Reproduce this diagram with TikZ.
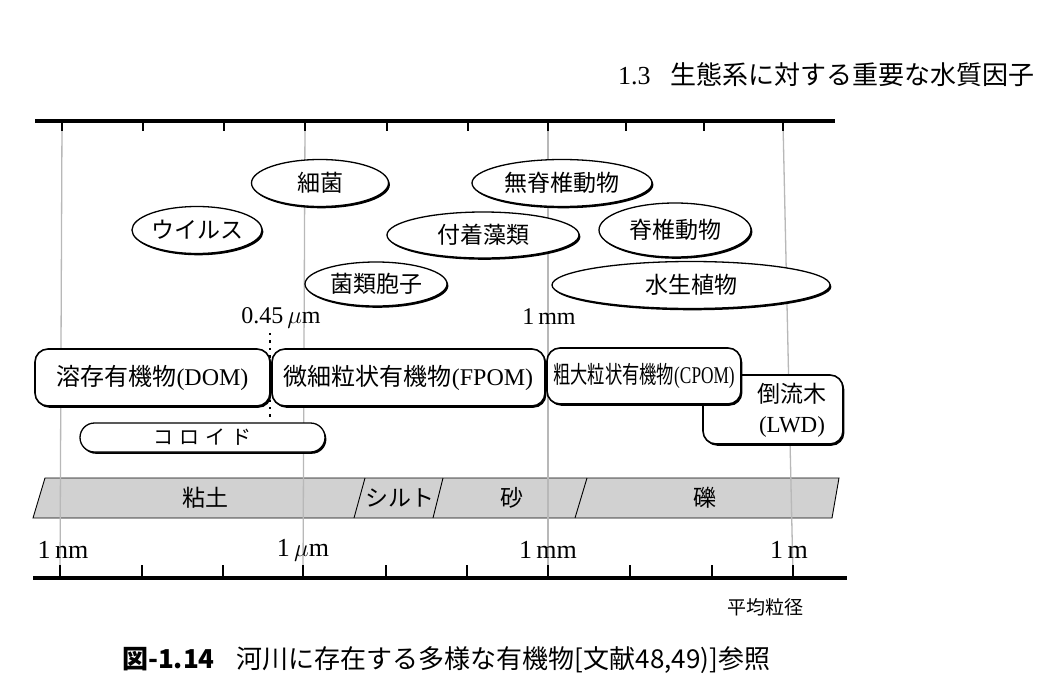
\documentclass[tikz,border=0pt]{standalone}
\usepackage{fontspec}
\setmainfont{Liberation Serif}
\newfontfamily\jp{Noto Sans CJK JP}
\usetikzlibrary{shapes.geometric,shadows}
\begin{document}
\begin{tikzpicture}[x=1pt,y=-1pt,
  shad/.style={drop shadow={shadow xshift=1.4pt, shadow yshift=-1.8pt, fill=black, opacity=1}},
  ell/.style={ellipse, draw, line width=1.3pt, fill=white, inner sep=0pt, shad,
    font=\fontsize{23}{26}\selectfont\jp},
  box/.style={rectangle, rounded corners=13pt, draw, line width=1.6pt, fill=white, inner sep=0pt, shad,
    font=\fontsize{24}{28}\selectfont},
  gridline/.style={draw=black!28, line width=1.3pt},
  axisline/.style={line width=4.5pt},
  tickline/.style={line width=2pt},
  lbl/.style={inner sep=0pt, font=\fontsize{26}{30}\selectfont},
  jplbl/.style={inner sep=0pt, font=\fontsize{23}{26}\selectfont\jp},
]
\useasboundingbox (0,0) rectangle (1044,693);
\fill[white] (0,0) rectangle (1044,693);

% header
\node[inner sep=0pt, anchor=west, font=\fontsize{26}{30}\selectfont] (header) at (618,75) {1.3\hspace{20pt}{\jp 生態系に対する重要な水質因子}};

% grain-size band
\draw[line width=0.9pt, fill=black!18] (33,518) -- (45,478) -- (839,478) -- (832,518) -- cycle;
\draw[line width=0.9pt] (354,518) -- (365,478);
\draw[line width=0.9pt] (433,518) -- (443,478);
\draw[line width=0.9pt] (575,518) -- (587,478);
\node[jplbl] (clay) at (205,498) {粘土};
\node[jplbl] (silt) at (400,498) {シルト};
\node[jplbl] (sand) at (512,498) {砂};
\node[jplbl] (gravel) at (705,498) {礫};

% grid lines
\draw[gridline] (62,123) -- (60,576);
\draw[gridline] (305,123) -- (303,576);
\draw[gridline] (548,123) -- (548,576);
\draw[gridline] (783,123) -- (793,576);

% top axis
\draw[axisline] (35,121) -- (835,121);
\foreach \x in {62,143,224,305,387,468,548,626,704,783}
  \draw[tickline] (\x,121) -- (\x,131);

% bottom axis
\draw[axisline] (33,578) -- (847,578);
\foreach \x in {60,142,223,303,386,467,548,630,712,793}
  \draw[tickline] (\x,578) -- (\x,565);
\node[lbl] (nm) at (63,550) {1\,nm};
\node[lbl] (um) at (303,550) {1\,$\mu$m};
\node[lbl] (mm) at (548,550) {1\,mm};
\node[lbl] (m) at (789,550) {1\,m};
\node[inner sep=0pt, font=\fontsize{19}{22}\selectfont\jp] (avg) at (765,607) {平均粒径};

% organisms
\node[ell, minimum width=137pt, minimum height=47pt] (bact) at (320,183) {細菌};
\node[ell, minimum width=110pt, minimum height=47pt] (virus) at (197,230) {ウイルス};
\node[ell, minimum width=142pt, minimum height=44pt] (spore) at (376,284) {菌類胞子};
\node[ell, minimum width=192pt, minimum height=46pt] (algae) at (483,235) {付着藻類};
\node[ell, minimum width=180pt, minimum height=47pt] (invert) at (562,183) {無脊椎動物};
\node[ell, minimum width=152pt, minimum height=54pt] (vert) at (675,230) {脊椎動物};
\node[ell, minimum width=278pt, minimum height=47pt] (plant) at (691,285) {水生植物};

% size labels
\node[lbl, font=\fontsize{24}{28}\selectfont] (l045) at (281,318) {0.45\,$\mu$m};
\node[lbl, font=\fontsize{24}{28}\selectfont] (l1mm) at (549,317) {1\,mm};
\coordinate (dtop) at (270,333);
\coordinate (dbot) at (270,417);
\draw[line width=2.4pt, dash pattern=on 2.4pt off 5pt] (dtop) -- (dbot);

% organic matter classes
\node[box, minimum width=235pt, minimum height=57pt] (dom) at (152.5,377.5) {{\jp 溶存有機物}(DOM)};
\node[box, minimum width=273pt, minimum height=57pt] (fpom) at (408.5,377.5) {{\jp 微細粒状有機物}(FPOM)};
\node[box, minimum width=140pt, minimum height=69pt] (lwd) at (773,409.5) {};
\node[box, minimum width=194pt, minimum height=56pt] (cpom) at (644,376) {\scalebox{0.72}[1]{{\jp 粗大粒状有機物}(CPOM)}};
\node[inner sep=0pt, align=center, font=\fontsize{23}{30}\selectfont] (lwdtext) at (792,410) {{\jp 倒流木}\\(LWD)};
\node[box, rounded corners=14.5pt, line width=1.3pt, minimum width=245pt, minimum height=29pt,
  font=\fontsize{20}{24}\selectfont\jp] (colloid) at (202.5,437.5) {コ\hspace{6pt}ロ\hspace{6pt}イ\hspace{6pt}ド};

% caption
\node[inner sep=0pt, anchor=west, font=\fontsize{26}{30}\selectfont\jp] (caption) at (122,660)
  {{\bfseries 図-1.14}\hspace{22pt}河川に存在する多様な有機物[文献48,49)]参照};
\end{tikzpicture}
\end{document}
